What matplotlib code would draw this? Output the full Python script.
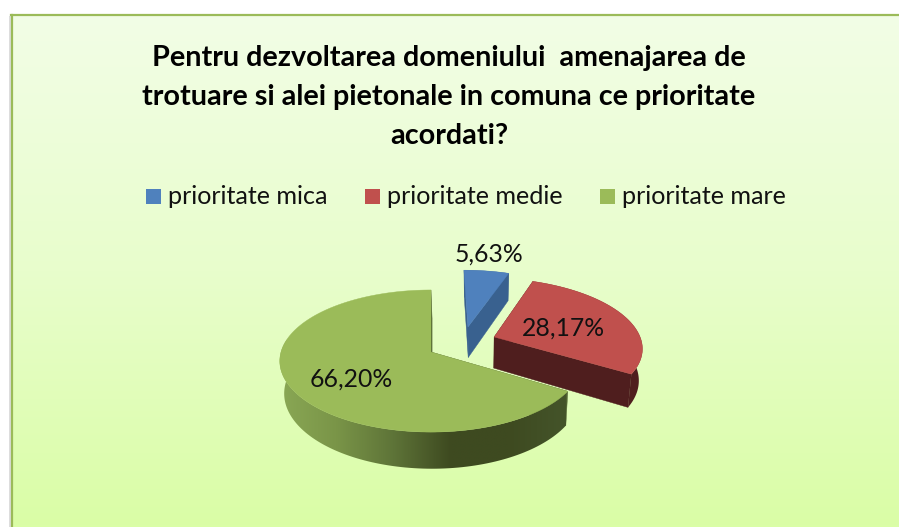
#!/usr/bin/env python
# -*- coding: utf-8 -*-

import matplotlib
matplotlib.use("Agg")
import matplotlib.pyplot as plt
import numpy as np
from matplotlib.colors import LinearSegmentedColormap
from matplotlib.patches import Polygon, Rectangle

title = "Pentru dezvoltarea domeniului  amenajarea de\ntrotuare si alei pietonale in comuna ce prioritate\nacordati?"
categories = ["prioritate mica", "prioritate medie", "prioritate mare"]
values = [5.63, 28.17, 66.20]

top_colors = ["#4f81bd", "#c0504d", "#9bbb59"]
side_colors = ["#39618f", "#4f1e1e", "#4f6230"]
explode = [(0.258, 0.375), (0.433, 0.221), (0.0, 0.0)]
legend_x = [146, 365, 600]
label_pos = [(489, 254), (563, 328), (351, 379)]

# projection of the pie disc onto the picture, in pixels
CX, CY = 431, 352
RX, RY = 150, 69.9
PERSP = 0.127
DEPTH = 32
VANISH_X = 480
SHRINK = 0.022

green_side = LinearSegmentedColormap.from_list(
    "green_side", ["#8aa855", "#7a9548", "#5e7438", "#3e4a20", "#3e4a20", "#44542a"])


def project(x, y, depth=0.0):
    w = 1 + PERSP*y
    sx = CX + RX*x/w
    sy = CY - RY*y/w + depth*DEPTH/w
    sx = sx + (VANISH_X - sx)*SHRINK*depth
    return sx, sy


def slice_xy(a0, a1, off):
    # angles are clockwise from the top of the pie
    t = np.linspace(a0, a1, 160)
    return off[0] + np.sin(t), off[1] + np.cos(t)


def draw_slice(ax, a0, a1, off, top, side, shaded=False):
    x, y = slice_xy(a0, a1, off)
    apex = np.array([off[0]]), np.array([off[1]])

    # cut faces
    for i in (0, -1):
        ex = np.array([off[0], x[i]])
        ey = np.array([off[1], y[i]])
        p0 = project(ex, ey)
        p1 = project(ex, ey, 1.0)
        ax.add_patch(Polygon(np.column_stack([np.r_[p0[0], p1[0][::-1]],
                                              np.r_[p0[1], p1[1][::-1]]]),
                             fc=side, ec=side, lw=0.3, zorder=3))

    # outer face
    sx0, sy0 = project(x, y)
    sx1, sy1 = project(x, y, 1.0)
    outer = Polygon(np.column_stack([np.r_[sx0, sx1[::-1]], np.r_[sy0, sy1[::-1]]]),
                    fc=side, ec="none", zorder=3, transform=ax.transData)
    if shaded:
        im = ax.imshow(np.linspace(0, 1, 256).reshape(1, -1), cmap=green_side,
                       aspect="auto", extent=[278, 566, 480, 340], zorder=3)
        im.set_clip_path(outer)
    else:
        ax.add_patch(outer)

    # top face
    ax_, ay_ = project(*apex)
    ax.add_patch(Polygon(np.column_stack([np.r_[ax_, sx0], np.r_[ay_, sy0]]),
                         fc=top, ec=top, lw=0.3, zorder=4))


fig = plt.figure(figsize=(8.99, 5.27), dpi=100)
ax = fig.add_axes([0, 0, 1, 1])

# panel background, shadow and border
grad = LinearSegmentedColormap.from_list("bg", ["#f2fde6", "#e8fdcc", "#dafea6"])
ax.imshow(np.linspace(0, 1, 256).reshape(-1, 1), cmap=grad, aspect="auto",
          extent=[11, 899, 527, 15], zorder=1)
ax.add_patch(Rectangle((8.5, 16), 2.5, 511, fc="#dddddd", ec="none", zorder=0))
ax.plot([11.5, 11.5], [527, 15], color="#9bbb59", lw=1.6, zorder=2)
ax.plot([11, 899], [15, 15], color="#9bbb59", lw=1.6, zorder=2)

fig.text(449/899, 1 - 97/527, title, family="Lato", weight="bold", fontsize=20.7,
         ha="center", va="center", linespacing=1.6, color="black")

# legend
for lx, name, c in zip(legend_x, categories, top_colors):
    ax.add_patch(Rectangle((lx, 189), 15, 15, fc=c, ec="none", zorder=3))
    ax.text(lx + 22, 196.5, name, family="Lato", fontsize=18.1,
            ha="left", va="center", color="#111111", zorder=5)

# slices
edges = 2*np.pi*np.r_[0, np.cumsum(values)]/np.sum(values)
order = [2, 0, 1]
for i in order:
    draw_slice(ax, edges[i], edges[i+1], explode[i], top_colors[i],
               side_colors[i], shaded=(i == 2))

for v, pos in zip(values, label_pos):
    ax.text(pos[0], pos[1], f"{v:.2f}%".replace(".", ","), family="Lato",
            fontsize=17.8, ha="center", va="center", color="#111111", zorder=6)

ax.set_xlim(0, 899)
ax.set_ylim(527, 0)
ax.axis("off")

fig.savefig("out.png", dpi=100, facecolor="white")
